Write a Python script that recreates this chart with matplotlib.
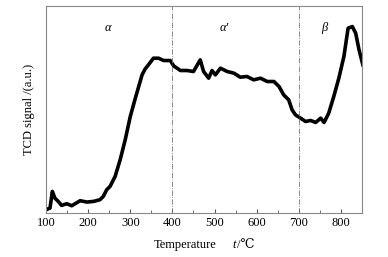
import numpy as np
import matplotlib
matplotlib.use('Agg')
import matplotlib.pyplot as plt
from matplotlib.ticker import MultipleLocator

plt.rcParams['font.family'] = ['Liberation Serif', 'DejaVu Serif']

# TPD trace (temperature in C, signal in arbitrary units)
temp = [100, 109.5, 115, 121, 129, 137, 149, 161, 181, 197, 213, 228, 236, 244, 252,
        264, 276, 288, 300, 312, 320, 328, 335, 343, 355, 367, 379, 395, 403, 419,
        435, 450, 466, 474, 486, 494, 502, 514, 530, 546, 561, 577, 593, 609, 625,
        641, 653, 664, 676, 684, 692, 704, 716, 728, 740, 752, 760, 771, 783, 795,
        807, 817, 827, 835, 843, 852]
signal = [10, 15, 65, 45, 35, 23, 28, 22, 37, 33, 35, 40, 50, 70, 80,
          110, 160, 220, 290, 345, 380, 415, 432, 445, 465, 465, 458, 458, 442, 428,
          428, 425, 460, 425, 405, 428, 415, 435, 425, 420, 408, 410, 400, 405, 395,
          395, 380, 355, 340, 310, 295, 285, 275, 278, 272, 285, 272, 300, 350, 405,
          470, 555, 560, 540, 490, 445]

boundaries = [400, 700]
peak_labels = ['\u03b1', '\u03b1\u2032', '\u03b2']
label_x = [248, 524, 761]

fig = plt.figure(figsize=(3.88, 2.57), dpi=100)
ax = fig.add_axes([0.1186, 0.171, 0.8144, 0.806])

ax.plot(temp, signal, color='black', lw=2.6, solid_joinstyle='round')
for b in boundaries:
    ax.axvline(b, color='#777777', lw=0.6, ls='-.')
for lab, lx in zip(peak_labels, label_x):
    ax.text(lx, 555, lab, fontsize=9, style='italic', ha='center', va='center')

ax.set_xlim(100, 850)
ax.set_ylim(0, 622)
ax.xaxis.set_major_locator(MultipleLocator(100))
ax.xaxis.set_minor_locator(MultipleLocator(50))
ax.tick_params(axis='x', which='both', direction='in', labelsize=9, color='#555555', pad=3)
ax.tick_params(axis='x', which='major', length=3)
ax.tick_params(axis='x', which='minor', length=2)
ax.set_yticks([])
for s in ax.spines.values():
    s.set_color('#888888')
    s.set_linewidth(0.8)

fig.text(185 / 388, 1 - 245 / 257, 'Temperature', fontsize=9, ha='center', va='center')
fig.text(232 / 388, 1 - 245 / 257, 't', fontsize=9, style='italic', ha='left', va='center')
fig.text(237 / 388, 1 - 245 / 257, '/\u2103', fontsize=9, ha='left', va='center')
ax.set_ylabel('TCD signal /(a.u.)', fontsize=9, labelpad=8)

fig.savefig('out.png', dpi=100)
